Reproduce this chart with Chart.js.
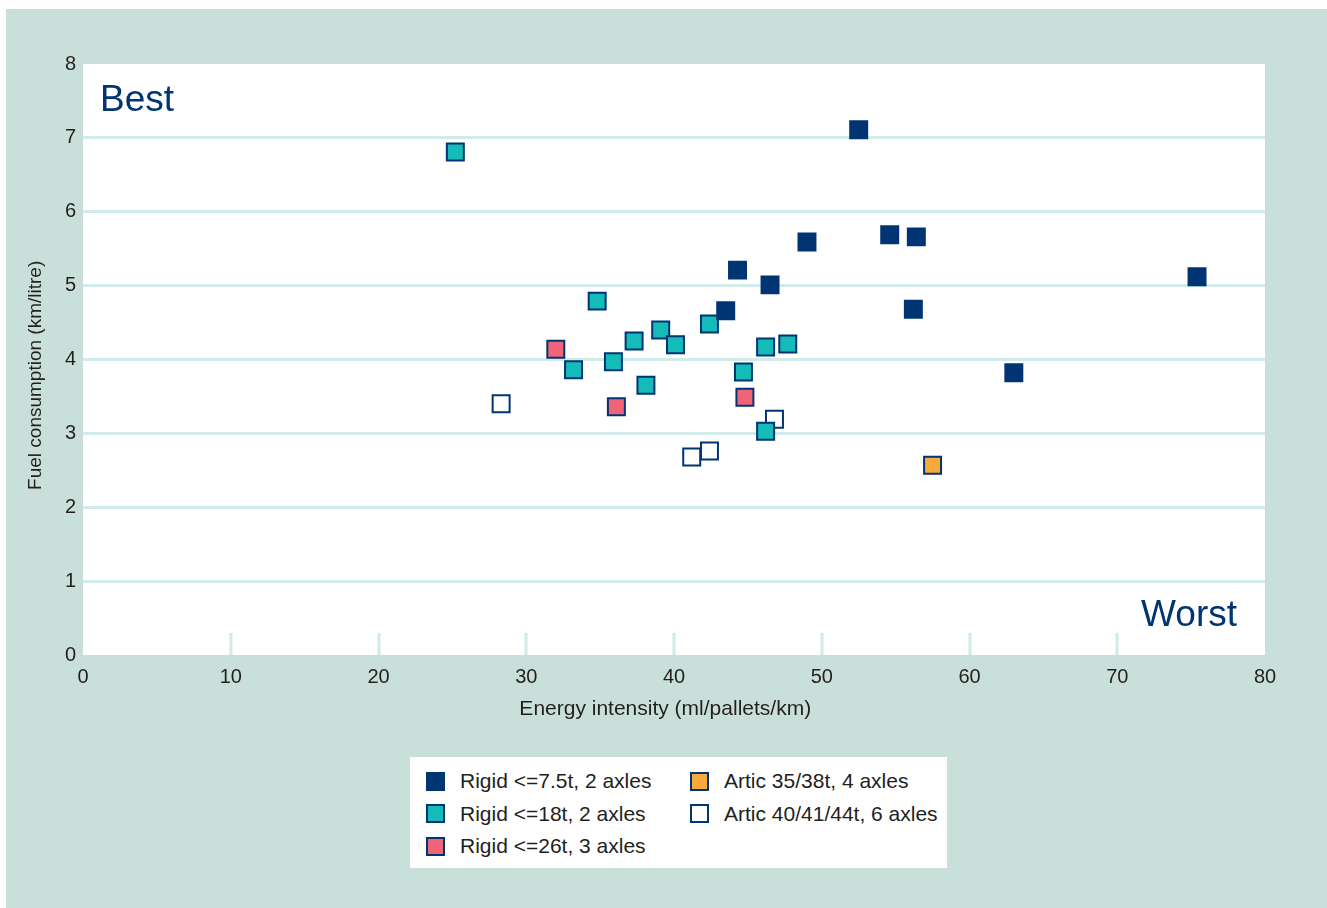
<!DOCTYPE html>
<html>
<head>
<meta charset="utf-8">
<script src="https://cdn.jsdelivr.net/npm/chart.js@4"></script>
<style>
  body { margin: 0; background: #fff; font-family: "Liberation Sans", Arial, sans-serif; }
  #wrap { position: absolute; left: 6px; top: 9px; width: 1321px; height: 899px; background: #c9e0da; }
  #chartBox { position: absolute; left: 0; top: 0; width: 1321px; height: 740px; }
  #legend { position: absolute; left: 404px; top: 748px; width: 537px; height: 111px; background: #fff;
            display: grid; grid-template-columns: 264px 270px; grid-auto-rows: 32.5px; padding-top: 8px; box-sizing: border-box; }
  .item { display: flex; align-items: center; font-size: 21px; color: #231f20; }
  .sw { width: 15px; height: 15px; border: 2px solid #003473; margin-left: 16px; margin-right: 15px; }
</style>
</head>
<body>
<div id="wrap">
  <div id="chartBox"><canvas id="myChart1"></canvas></div>
  <div id="legend"></div>
</div>
<script>
const seriesNames = ['Rigid <=7.5t, 2 axles', 'Rigid <=18t, 2 axles', 'Rigid <=26t, 3 axles', 'Artic 35/38t, 4 axles', 'Artic 40/41/44t, 6 axles'];
const seriesColors = ['#003473', '#14bbb8', '#f06478', '#f9a83c', '#ffffff'];

// energy intensity (x) and fuel consumption (y) per series
const rigid75X = [52.5, 54.6, 56.4, 49.0, 44.3, 46.5, 43.5, 56.2, 75.4, 63.0];
const rigid75Y = [7.11, 5.69, 5.66, 5.59, 5.21, 5.01, 4.66, 4.68, 5.12, 3.82];
const rigid18X = [25.2, 34.8, 42.4, 39.1, 37.3, 40.1, 46.2, 47.7, 35.9, 33.2, 44.7, 38.1, 46.2];
const rigid18Y = [6.81, 4.79, 4.48, 4.40, 4.25, 4.20, 4.17, 4.21, 3.97, 3.86, 3.83, 3.65, 3.03];
const rigid26X = [32.0, 36.1, 44.8];
const rigid26Y = [4.14, 3.36, 3.49];
const artic38X = [57.5];
const artic38Y = [2.57];
const artic44X = [28.3, 41.2, 42.4, 46.8];
const artic44Y = [3.40, 2.68, 2.76, 3.19];

const xTicks = [0, 10, 20, 30, 40, 50, 60, 70, 80];
const yTicks = [0, 1, 2, 3, 4, 5, 6, 7, 8];

function pts(xs, ys) {
  return xs.map((x, i) => ({ x: x, y: ys[i] }));
}

const allX = [rigid75X, rigid18X, rigid26X, artic38X, artic44X];
const allY = [rigid75Y, rigid18Y, rigid26Y, artic38Y, artic44Y];

const datasets = seriesNames.map((name, i) => ({
  label: name,
  data: pts(allX[i], allY[i]),
  backgroundColor: seriesColors[i],
  borderColor: '#003473',
  borderWidth: 2,
  pointStyle: 'rect',
  pointRadius: 12,
  pointHoverRadius: 12,
}));

const gridTeal = '#d0ebe9';

const plotBackground = {
  id: 'plotBackground',
  beforeDraw(chart) {
    const { ctx, chartArea: a } = chart;
    ctx.save();
    ctx.fillStyle = '#ffffff';
    ctx.fillRect(a.left, a.top, a.right - a.left, a.bottom - a.top);
    ctx.restore();
  },
  beforeDatasetsDraw(chart) {
    // short inward ticks on the x axis
    const { ctx, chartArea: a, scales } = chart;
    ctx.save();
    ctx.strokeStyle = gridTeal;
    ctx.lineWidth = 3;
    xTicks.slice(1, -1).forEach(v => {
      const px = Math.round(scales.x.getPixelForValue(v));
      ctx.beginPath();
      ctx.moveTo(px, a.bottom);
      ctx.lineTo(px, a.bottom - 22);
      ctx.stroke();
    });
    ctx.fillStyle = '#003473';
    ctx.font = '37px "Liberation Sans", Arial, sans-serif';
    ctx.textBaseline = 'alphabetic';
    ctx.textAlign = 'left';
    ctx.fillText('Best', a.left + 17, a.top + 47);
    ctx.textAlign = 'right';
    ctx.fillText('Worst', a.right - 28, a.bottom - 29);
    ctx.restore();
  }
};

const tickFont = { family: '"Liberation Sans", Arial, sans-serif', size: 20 };

new Chart(document.getElementById('myChart1').getContext('2d'), {
  type: 'scatter',
  data: { datasets: datasets },
  options: {
    responsive: true,
    maintainAspectRatio: false,
    animation: false,
    layout: { padding: { left: 0, top: 55, right: 62, bottom: 0 } },
    plugins: { legend: { display: false }, tooltip: { enabled: false } },
    scales: {
      x: {
        type: 'linear',
        min: 0, max: 80,
        afterBuildTicks: s => { s.ticks = xTicks.map(v => ({ value: v })); },
        afterFit: s => { s.height = 94; },
        grid: { display: false, drawTicks: false },
        border: { display: false },
        ticks: { color: '#231f20', font: tickFont, padding: 10, maxRotation: 0 },
        title: { display: true, text: 'Energy intensity (ml/pallets/km)   ', color: '#231f20',
                 font: { family: '"Liberation Sans", Arial, sans-serif', size: 21 }, padding: { top: 0, bottom: 27 } },
      },
      y: {
        type: 'linear',
        min: 0, max: 8,
        afterBuildTicks: s => { s.ticks = yTicks.map(v => ({ value: v })); },
        afterFit: s => { s.width = 77; },
        grid: {
          drawTicks: false,
          lineWidth: 3,
          color: c => (c.tick && (c.tick.value === 0 || c.tick.value === 8)) ? 'rgba(0,0,0,0)' : gridTeal,
        },
        border: { display: false },
        ticks: { color: '#231f20', font: tickFont, padding: 7 },
        title: { display: true, text: 'Fuel consumption (km/litre)      ', color: '#231f20',
                 font: { family: '"Liberation Sans", Arial, sans-serif', size: 19 }, padding: { top: 18, bottom: 0 } },
      },
    },
  },
  plugins: [plotBackground],
});

// legend in two columns, filled column by column
const legendEl = document.getElementById('legend');
const order = [0, 3, 1, 4, 2];
order.forEach(i => {
  const item = document.createElement('div');
  item.className = 'item';
  const sw = document.createElement('span');
  sw.className = 'sw';
  sw.style.background = seriesColors[i];
  item.appendChild(sw);
  item.appendChild(document.createTextNode(seriesNames[i]));
  legendEl.appendChild(item);
});
</script>
</body>
</html>
